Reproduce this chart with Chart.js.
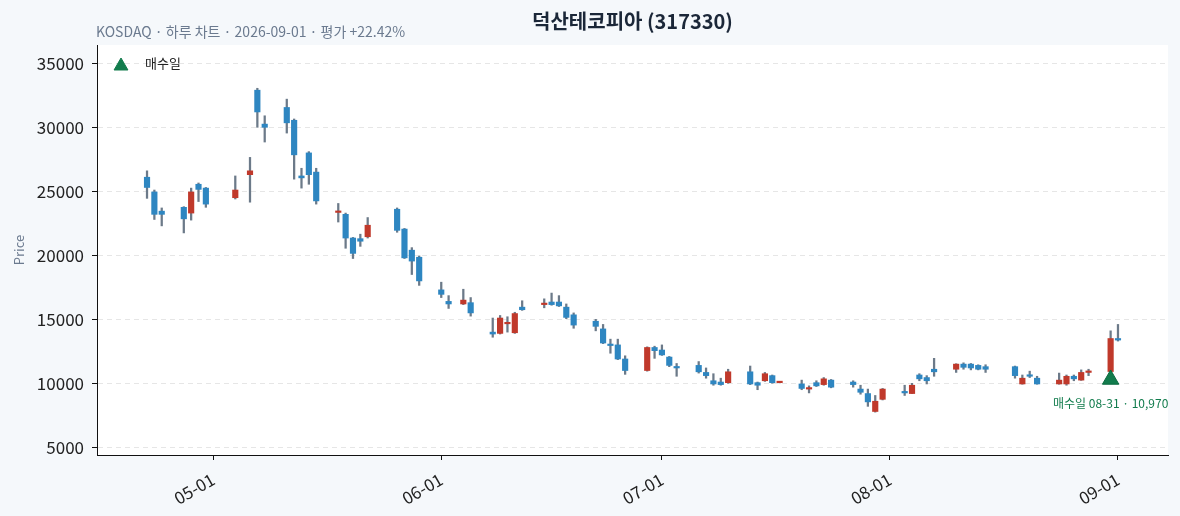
<!DOCTYPE html>
<html><head><meta charset="utf-8">
<script src="https://cdn.jsdelivr.net/npm/chart.js@4.4.1/dist/chart.umd.min.js"></script>
<style>html,body{margin:0;padding:0;background:#f5f8fb;}#wrap{width:1180px;height:516px;position:relative;}</style>
</head><body><div id="wrap"><canvas id="c"></canvas></div>
<script>
const titleText = '덕산테코피아 (317330)';
const subtitleText = 'KOSDAQ · 하루 차트 · 2026-09-01 · 평가 +22.42%';
const legendLabel = '매수일';
const dates = [
'2026-04-22','2026-04-23','2026-04-24','2026-04-27','2026-04-28','2026-04-29','2026-04-30',
'2026-05-04','2026-05-06','2026-05-07','2026-05-08','2026-05-11','2026-05-12','2026-05-13','2026-05-14','2026-05-15',
'2026-05-18','2026-05-19','2026-05-20','2026-05-21','2026-05-22','2026-05-26','2026-05-27','2026-05-28','2026-05-29',
'2026-06-01','2026-06-02','2026-06-04','2026-06-05','2026-06-08','2026-06-09','2026-06-10','2026-06-11','2026-06-12',
'2026-06-15','2026-06-16','2026-06-17','2026-06-18','2026-06-19','2026-06-22','2026-06-23','2026-06-24','2026-06-25','2026-06-26',
'2026-06-29','2026-06-30','2026-07-01','2026-07-02','2026-07-03','2026-07-06','2026-07-07','2026-07-08','2026-07-09','2026-07-10',
'2026-07-13','2026-07-14','2026-07-15','2026-07-16','2026-07-17','2026-07-20','2026-07-21','2026-07-22','2026-07-23','2026-07-24',
'2026-07-27','2026-07-28','2026-07-29','2026-07-30','2026-07-31','2026-08-03','2026-08-04','2026-08-05','2026-08-06','2026-08-07',
'2026-08-10','2026-08-11','2026-08-12','2026-08-13','2026-08-14','2026-08-18','2026-08-19','2026-08-20','2026-08-21',
'2026-08-24','2026-08-25','2026-08-26','2026-08-27','2026-08-28','2026-08-31','2026-09-01'];
const opens = [
26150,25000,23500,23800,23350,25600,25300,
24550,26350,32950,30300,31600,30600,26250,28050,26550,
23400,23250,21400,21350,21500,23650,22100,20450,19900,
17350,16450,16250,16350,14050,13950,14700,14000,16000,
16200,16400,16400,16000,15400,14900,14300,13100,13050,11950,
11050,12850,12650,12100,11350,11450,10900,10250,10150,10100,
10950,10100,10250,10650,10100,10000,9600,10100,9950,10300,
10150,9600,9250,7850,8800,9400,9250,10700,10500,11150,
11150,11550,11550,11450,11350,11350,10000,10700,10450,
10000,10000,10600,10300,10900,10970,13550];
const highs = [
26650,25150,23750,23850,25300,25700,25350,
26250,27700,33100,30950,32250,30700,26850,28150,26850,
24100,23350,21450,21700,23000,23750,22150,20650,20000,
17950,16900,17400,16750,15150,15350,15250,15600,16500,
16650,17100,16900,16250,15550,15050,14650,13500,13500,12200,
12900,12950,13050,12150,11600,11750,11250,10800,10450,11150,
11400,10150,10900,10700,10200,10300,9850,10250,10500,10350,
10250,9900,9600,9100,9650,9900,10050,10800,10650,12000,
11580,11650,11600,11500,11500,11400,10700,11000,10600,
10850,10700,10700,11100,11150,14150,14650];
const lows = [
24500,22850,22350,21800,22800,24250,23800,
24450,24200,30050,28900,29600,26000,25300,25600,24050,
22650,20600,19800,20750,21400,21850,19800,18550,17700,
16750,15900,16200,15300,13650,13900,14050,13950,15750,
15950,16150,16050,15100,14350,14150,13150,12400,11900,10750,
11000,12000,12230,11350,10600,10850,10450,9900,9900,10050,
9950,9550,10200,10050,10080,9550,9300,9800,9900,9700,
9750,9200,8250,7800,8750,9100,9250,10250,10000,10600,
10900,11150,11100,11100,10900,10450,9980,10500,9980,
9980,9900,10250,10280,10650,10800,13350];
const closes = [
25350,23250,23250,22900,25000,25200,24050,
25150,26650,31250,30050,30400,27900,26100,26350,24300,
23500,21400,20200,21150,22400,22000,19850,19600,18050,
17000,16250,16550,15550,13900,15150,14800,15500,15800,
16250,16200,16100,15200,14600,14500,13200,13000,11950,11050,
12850,12600,12270,11450,11250,10950,10650,10000,9950,10950,
10000,9900,10800,10100,10150,9650,9700,9850,10400,9750,
9950,9350,8600,8650,9600,9300,9900,10400,10250,10950,
11550,11300,11250,11150,11150,10650,10450,10600,10000,
10300,10600,10400,10900,11000,13550,13430];
const buyDate = '2026-08-31';
const buyPrice = 10970;
const buyMarkerValue = 10350;
const yTicks = [5000,10000,15000,20000,25000,30000,35000];
const xTickDates = ['2026-05-01','2026-06-01','2026-07-01','2026-08-01','2026-09-01'];
const yMin = 4450, yMax = 36480;

const dayNum = s => Date.UTC(+s.slice(0,4), +s.slice(5,7)-1, +s.slice(8,10)) / 86400000;
const fmtMD = v => { const d = new Date(v*86400000); return String(d.getUTCMonth()+1).padStart(2,'0') + '-' + String(d.getUTCDate()).padStart(2,'0'); };

const UP = '#c0392b', DOWN = '#2e86c1', WICK = '#6c7a89', GREEN = '#127c4d';
const FONT = "'Noto Sans CJK KR', 'Noto Sans', sans-serif";

const bodyData = dates.map((d,i)=>({x: dayNum(d), y: [opens[i], closes[i]]}));
const wickData = dates.map((d,i)=>({x: dayNum(d), y: [lows[i], highs[i]]}));
const markerData = [{x: dayNum(buyDate), y: buyMarkerValue}];

const bgPlugin = {
  id: 'bg',
  beforeDraw(chart) {
    const {ctx, chartArea: a} = chart;
    ctx.save();
    ctx.fillStyle = '#f5f8fb'; ctx.fillRect(0,0,chart.width,chart.height);
    ctx.fillStyle = '#ffffff'; ctx.fillRect(a.left, a.top, a.right-a.left, a.bottom-a.top);
    ctx.restore();
  }
};
const overlayPlugin = {
  id: 'overlay',
  afterDraw(chart) {
    const {ctx, chartArea: a} = chart;
    ctx.save();
    ctx.font = '14px ' + FONT; ctx.fillStyle = '#6b7a8f'; ctx.textAlign = 'left'; ctx.textBaseline = 'middle';
    ctx.fillText(subtitleText, a.left - 1, 32);
    ctx.fillStyle = GREEN; ctx.strokeStyle = GREEN; ctx.lineWidth = 1;
    Chart.helpers.drawPoint(ctx, {pointStyle: 'triangle', radius: 8, rotation: 0, borderWidth: 1}, a.left + 24, a.top + 21);
    ctx.font = '13px ' + FONT; ctx.fillStyle = '#222'; ctx.textAlign = 'left';
    ctx.fillText(legendLabel, a.left + 48, a.top + 18);
    const el = chart.getDatasetMeta(0).data[0];
    ctx.font = '12px ' + FONT; ctx.fillStyle = GREEN; ctx.textAlign = 'center';
    ctx.fillText(legendLabel + ' ' + fmtMD(dayNum(buyDate)) + ' · ' + buyPrice.toLocaleString('en-US'), el.x, el.y + 23.5);
    ctx.restore();
  }
};

new Chart(document.getElementById('c'), {
  type: 'bar',
  data: {
    datasets: [
      { type: 'scatter', label: legendLabel, data: markerData, pointStyle: 'triangle', pointRadius: 9.5, pointHoverRadius: 9.5,
        backgroundColor: GREEN, borderColor: '#0b6a3f', borderWidth: 1, order: 0 },
      { type: 'bar', label: 'body', data: bodyData, grouped: false, barThickness: 5.5, minBarLength: 1.5,
        backgroundColor: c => { const i = c.dataIndex; return closes[i] >= opens[i] ? UP : DOWN; }, borderWidth: 0, order: 1 },
      { type: 'bar', label: 'wick', data: wickData, grouped: false, barThickness: 1.6,
        backgroundColor: WICK, borderWidth: 0, order: 2 }
    ]
  },
  options: {
    responsive: true, maintainAspectRatio: false, animation: false,
    devicePixelRatio: 1,
    layout: { padding: { left: 0, right: 12, top: 0, bottom: 0 } },
    plugins: {
      legend: { display: false },
      tooltip: { enabled: false },
      title: { display: true, text: titleText, fullSize: false, color: '#1b2738',
        font: { family: FONT, size: 20, weight: 'bold' }, padding: { top: 9, bottom: 12 } }
    },
    scales: {
      x: {
        type: 'linear', offset: false,
        min: dayNum(dates[0]) - 6.8, max: dayNum(dates[dates.length-1]) + 6.8,
        afterBuildTicks: s => { s.ticks = xTickDates.map(d => ({value: dayNum(d)})); },
        afterFit: s => { s.height = 61; },
        ticks: { autoSkip: false, minRotation: 30, maxRotation: 30, padding: 9, color: '#222',
          font: { family: FONT, size: 17 }, callback: v => fmtMD(v) },
        grid: { offset: false, drawOnChartArea: false, drawTicks: true, tickLength: 5, tickColor: '#111', tickWidth: 1 },
        border: { display: true, color: '#111', width: 1 }
      },
      y: {
        type: 'linear', min: yMin, max: yMax,
        afterBuildTicks: s => { s.ticks = yTicks.map(v => ({value: v})); },
        afterFit: s => { s.width = 97; },
        ticks: { padding: 8, color: '#222', font: { family: FONT, size: 17 }, callback: v => String(v) },
        grid: { color: '#e6e6e6', lineWidth: 1, tickLength: 5, tickColor: '#111', tickWidth: 1 },
        border: { display: true, color: '#111', width: 1, dash: [5, 4] },
        title: { display: true, text: 'Price', color: '#6b7a8f', font: { family: FONT, size: 13 }, padding: { top: 11, bottom: 0 } }
      }
    }
  },
  plugins: [bgPlugin, overlayPlugin]
});
</script></body></html>
